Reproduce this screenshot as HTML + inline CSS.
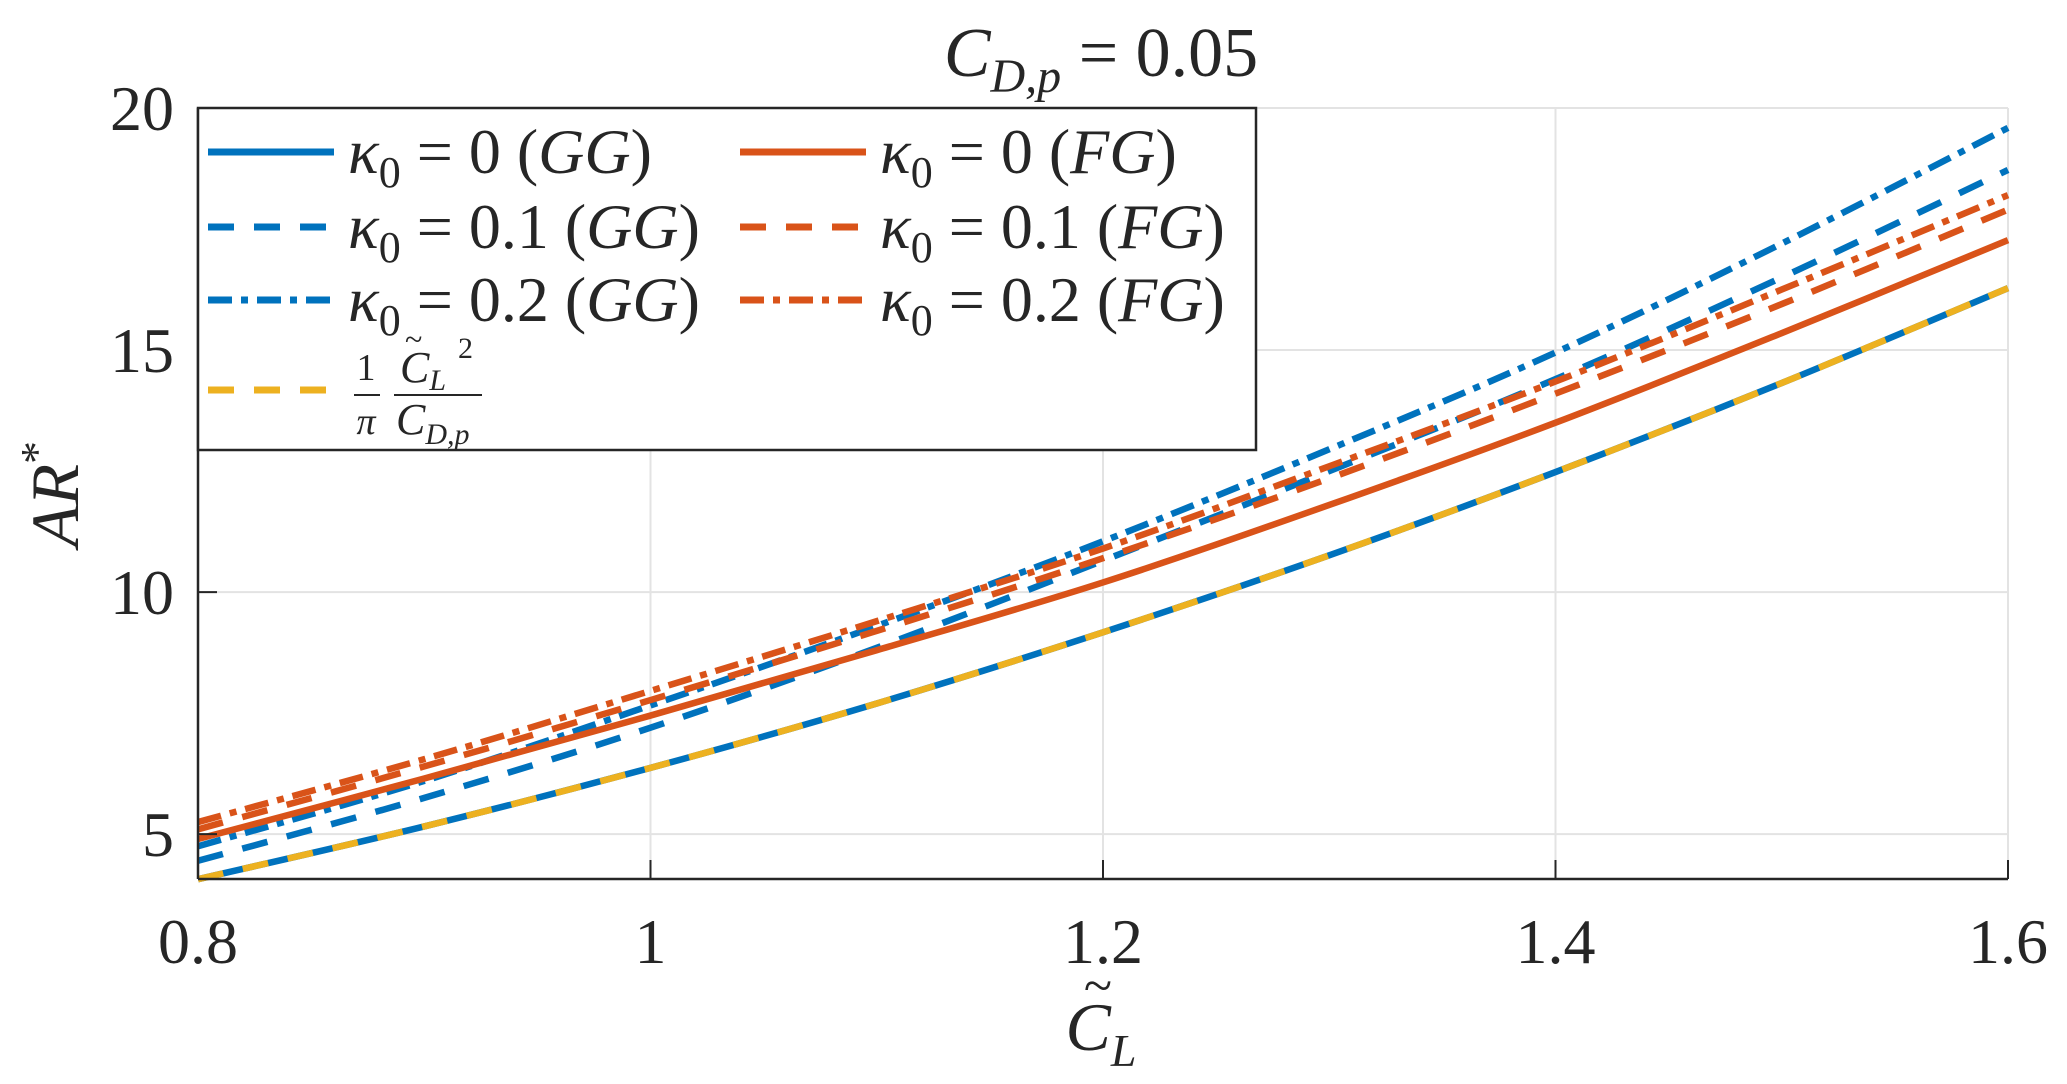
<!DOCTYPE html>
<html><head><meta charset="utf-8">
<style>
html,body{margin:0;padding:0;background:#fff;}
svg{display:block;}
text{font-family:"Liberation Serif","DejaVu Serif",serif;fill:#262626;}
</style></head>
<body>
<svg id="chart" width="2067" height="1084" viewBox="0 0 2067 1084" xmlns="http://www.w3.org/2000/svg">
<g id="grid"></g>
<g id="series"></g>
<g id="axes"></g>
<text x="1101" y="76" text-anchor="middle" font-size="70" font-style="italic">C<tspan font-size="48" dy="16">D,p</tspan><tspan font-style="normal" font-size="70" dy="-16"> = 0.05</tspan></text>
<text transform="translate(78,494) rotate(-90)" text-anchor="middle" font-size="68" font-style="italic">AR<tspan font-size="46" dy="-26" font-style="normal">*</tspan></text>
<text x="1101" y="1050" text-anchor="middle" font-size="68" font-style="italic"><tspan>C</tspan><tspan font-size="46" dy="16">L</tspan></text>
<text x="1098" y="1003" text-anchor="middle" font-size="52">~</text>
<g id="legend"></g>
</svg>
<script>
const xValues = [0.8, 0.9, 1.0, 1.1, 1.2, 1.3, 1.4, 1.5, 1.6];
const seriesGG0 = [4.07, 5.16, 6.37, 7.70, 9.17, 10.76, 12.48, 14.32, 16.28];
const seriesGG01 = [4.45, 5.75, 7.2, 8.85, 10.65, 12.5, 14.4, 16.5, 18.72];
const seriesGG02 = [4.75, 6.1, 7.66, 9.3, 11.05, 12.95, 14.95, 17.2, 19.59];
const seriesFG0 = [4.9, 6.15, 7.45, 8.8, 10.2, 11.8, 13.5, 15.35, 17.27];
const seriesFG01 = [5.1, 6.4, 7.77, 9.2, 10.7, 12.35, 14.1, 15.95, 17.9];
const seriesFG02 = [5.25, 6.55, 7.96, 9.4, 10.9, 12.6, 14.35, 16.25, 18.2];
const seriesRef = [4.07, 5.16, 6.37, 7.70, 9.17, 10.76, 12.48, 14.32, 16.28];
const xTicks = [0.8, 1.0, 1.2, 1.4, 1.6];
const xTickLabels = ["0.8", "1", "1.2", "1.4", "1.6"];
const yTicks = [5, 10, 15, 20];
const yTickLabels = ["5", "10", "15", "20"];

const NS = "http://www.w3.org/2000/svg";
const L = 198, R = 2008, T = 108, B = 879;
const xMin = 0.8, xMax = 1.6, yMin = 4.074, yMax = 20;
const xs = v => L + (v - xMin) / (xMax - xMin) * (R - L);
const ys = v => B - (v - yMin) / (yMax - yMin) * (B - T);
function mk(tag, attrs, parent) { const e = document.createElementNS(NS, tag); for (const k in attrs) e.setAttribute(k, attrs[k]); parent.appendChild(e); return e; }

const grid = document.getElementById('grid');
xTicks.forEach(t => {
  const g = mk('line', {x1: xs(t), x2: xs(t), y1: T, y2: B, stroke: '#e3e3e3', 'stroke-width': 2}, grid);
  
  
});
yTicks.forEach(t => {
  const g = mk('line', {x1: L, x2: R, y1: ys(t), y2: ys(t), stroke: '#e3e3e3', 'stroke-width': 2}, grid);
  
  
});

function pathFor(vals) {
  const pts = xValues.map((x, i) => [xs(x), ys(vals[i])]);
  let d = `M${pts[0][0]},${pts[0][1]}`;
  for (let i = 0; i < pts.length - 1; i++) {
    const p0 = pts[Math.max(0, i - 1)], p1 = pts[i], p2 = pts[i + 1], p3 = pts[Math.min(pts.length - 1, i + 2)];
    const c1 = [p1[0] + (p2[0] - p0[0]) / 6, p1[1] + (p2[1] - p0[1]) / 6];
    const c2 = [p2[0] - (p3[0] - p1[0]) / 6, p2[1] - (p3[1] - p1[1]) / 6];
    d += ` C${c1[0]},${c1[1]} ${c2[0]},${c2[1]} ${p2[0]},${p2[1]}`;
  }
  return d;
}
const BLUE = '#0072bd', ORANGE = '#d95319', YEL = '#edb120';
const DASH = '26 20', DDOT = '24 9 7 9';
const series = document.getElementById('series');
const defs = [
  [seriesGG0, BLUE, null, 'line-gg-k0'],
  [seriesGG01, BLUE, DASH, 'line-gg-k01'],
  [seriesGG02, BLUE, DDOT, 'line-gg-k02'],
  [seriesFG0, ORANGE, null, 'line-fg-k0'],
  [seriesFG01, ORANGE, DASH, 'line-fg-k01'],
  [seriesFG02, ORANGE, DDOT, 'line-fg-k02'],
  [seriesRef, YEL, DASH, 'line-reference']
];
defs.forEach(([vals, col, dash, name]) => {
  const p = mk('path', {d: pathFor(vals), fill: 'none', stroke: col, 'stroke-width': 6.5}, series);
  if (dash) p.setAttribute('stroke-dasharray', dash);
  
  
});

const axes = document.getElementById('axes');
const xa = mk('line', {x1: L, x2: R, y1: B, y2: B, stroke: '#262626', 'stroke-width': 2.5}, axes);


const ya = mk('line', {x1: L, x2: L, y1: T, y2: B, stroke: '#262626', 'stroke-width': 2.5}, axes);


xTicks.forEach((t, i) => {
  const tk = mk('line', {x1: xs(t), x2: xs(t), y1: B, y2: B - 19, stroke: '#262626', 'stroke-width': 2}, axes);
  
  
  const lb = mk('text', {x: xs(t), y: 963, 'text-anchor': 'middle', 'font-size': 64}, axes);
  lb.textContent = xTickLabels[i];
  
  
});
yTicks.forEach((t, i) => {
  const tk = mk('line', {x1: L, x2: L + 19, y1: ys(t), y2: ys(t), stroke: '#262626', 'stroke-width': 2}, axes);
  
  
  const lb = mk('text', {x: 174, y: ys(t) + 22, 'text-anchor': 'end', 'font-size': 64}, axes);
  lb.textContent = yTickLabels[i];
  
  
});

// legend
const lg = document.getElementById('legend');
const box = mk('rect', {x: 198, y: 108, width: 1058, height: 342, fill: '#fff', stroke: '#262626', 'stroke-width': 2.5}, lg);


const entries = [
  [208, 152, BLUE, null, '0', 'GG'],
  [208, 227, BLUE, DASH, '0.1', 'GG'],
  [208, 300, BLUE, DDOT, '0.2', 'GG'],
  [740, 152, ORANGE, null, '0', 'FG'],
  [740, 227, ORANGE, DASH, '0.1', 'FG'],
  [740, 300, ORANGE, DDOT, '0.2', 'FG']
];
entries.forEach(([x, y, col, dash, k, lab]) => {
  const ln = mk('line', {x1: x, x2: x + 126, y1: y, y2: y, stroke: col, 'stroke-width': 7}, lg);
  if (dash) ln.setAttribute('stroke-dasharray', dash);
  
  
  const tx = mk('text', {x: x + 140, y: y + 21, 'font-size': 64}, lg);
  tx.innerHTML = `<tspan font-style="italic">κ</tspan><tspan font-size="44" dy="14">0</tspan><tspan dy="-14"> = ${k} (</tspan><tspan font-style="italic">${lab}</tspan><tspan>)</tspan>`;
  
  
});
const rl = mk('line', {x1: 208, x2: 334, y1: 390, y2: 390, stroke: YEL, 'stroke-width': 7, 'stroke-dasharray': DASH}, lg);


const fr = mk('g', {}, lg);


fr.innerHTML = `<text x="366" y="380" text-anchor="middle" font-size="38">1</text>
<line x1="354" x2="380" y1="395" y2="395" stroke="#262626" stroke-width="2"/>
<text x="366" y="434" text-anchor="middle" font-size="38" font-style="italic">π</text>
<text x="400" y="382" font-size="44" font-style="italic">C<tspan font-size="30" dy="8">L</tspan></text>
<text x="405" y="350" font-size="32">~</text>
<text x="458" y="358" font-size="30">2</text>
<line x1="394" x2="482" y1="395" y2="395" stroke="#262626" stroke-width="2"/>
<text x="396" y="434" font-size="44" font-style="italic">C<tspan font-size="30" dy="10">D,p</tspan></text>`;
</script>
</body></html>
